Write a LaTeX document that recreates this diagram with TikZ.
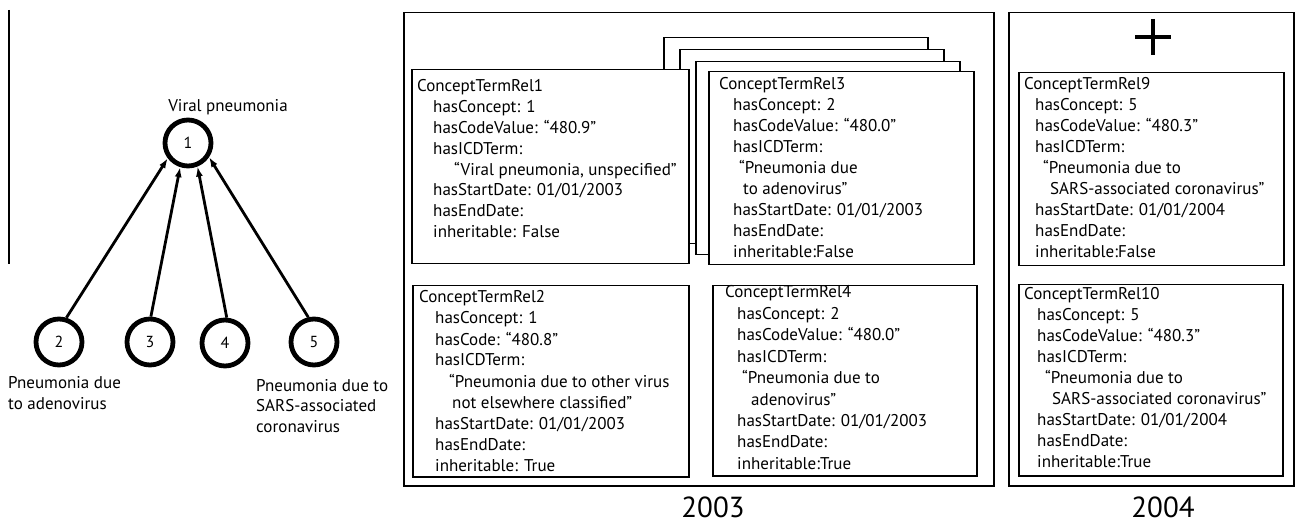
\documentclass[tikz,border=0pt]{standalone}
\usepackage{fontspec}
\setmainfont{PT Sans}
\usetikzlibrary{arrows.meta}
\tikzset{
  ctbox/.style={draw, line width=1.5pt, fill=white, inner sep=0pt, anchor=north west},
  outerbox/.style={draw, line width=1.5pt, inner sep=0pt, anchor=north west},
  ctext/.style={font=\fontsize{17}{20}\selectfont, inner sep=0pt, anchor=base west},
  concept/.style={circle, draw, line width=4.8pt, minimum size=46pt, inner sep=0pt, font=\fontsize{16}{18}\selectfont},
  clabel/.style={font=\fontsize{17}{20.5}\selectfont, inner sep=0pt, align=left},
  rel/.style={line width=2.8pt, -{Latex[length=10pt,width=7pt]}},
  year/.style={font=\fontsize{29}{34}\selectfont, inner sep=0pt},
}
\newcommand\ctlines[4]{%
  \foreach \lx/\ltxt [count=\i from 0] in {#4} {%
    \node[ctext] (#1-\i) at (\lx, {#2+#3*\i}) {\ltxt};}%
}
\begin{document}
\begin{tikzpicture}[x=1pt,y=-1pt]
\useasboundingbox (0,0) rectangle (1295,526);
% stray vertical line
\coordinate (vt) at (9,10);
\coordinate (vb) at (9,264);
\draw[line width=1.3pt] (vt) -- (vb);

% concept graph
\node[concept] (n1) at (188,143) {1};
\node[concept] (n2) at (59,342) {2};
\node[concept] (n3) at (150,342) {3};
\node[concept] (n4) at (225,343) {4};
\node[concept] (n5) at (314,342) {5};
\draw[rel] (n2.73.5) -- (n1.217.6);
\draw[rel] (n3.88) -- (n1.252);
\draw[rel] (n4.86) -- (n1.292);
\draw[rel] (n5.103.6) -- (n1.326.8);
\node[clabel] (l1) at (228,107) {Viral pneumonia};
\node[clabel, anchor=west] (l2) at (8,393) {Pneumonia due\\to adenovirus};
\node[clabel, anchor=west] (l5) at (256,406) {Pneumonia due to\\SARS-associated\\coronavirus};

% outer boxes
\node[outerbox, minimum width=590pt, minimum height=473pt] (b2003) at (403,12) {};
\node[outerbox, minimum width=285pt, minimum height=473pt] (b2004) at (1008,12) {};
\node[year] (y2003) at (713,507) {2003};
\node[year] (y2004) at (1163,507) {2004};

% stacked boxes behind Rel3
\node[ctbox, minimum width=264pt, minimum height=195pt] (sa) at (663,37) {};
\node[ctbox, minimum width=264pt, minimum height=194pt] (sb) at (679,49) {};
\node[ctbox, minimum width=264pt, minimum height=193pt] (sc) at (695,61) {};
\node[ctbox, minimum width=265pt, minimum height=193pt] (r3) at (708,71) {};
\node[ctbox, minimum width=277pt, minimum height=194pt] (r1) at (411,69) {};
\node[ctbox, minimum width=276pt, minimum height=191pt] (r2) at (412,285) {};
\node[ctbox, minimum width=264pt, minimum height=190pt] (r4) at (712,285) {};
\node[ctbox, minimum width=265pt, minimum height=193pt] (r9) at (1018,72) {};
\node[ctbox, minimum width=264pt, minimum height=191pt] (r10) at (1018,284) {};

\ctlines{t1}{92}{20.8}{417/ConceptTermRel1,433/{hasConcept: 1},433/{hasCodeValue: “480.9”},433/{hasICDTerm:},454/{“Viral pneumonia, unspecified”},433/{hasStartDate: 01/01/2003},433/{hasEndDate:},433/{inheritable: False}}
\ctlines{t3}{90}{21}{719/ConceptTermRel3,733/{hasConcept: 2},733/{hasCodeValue: “480.0”},733/{hasICDTerm:},739/{“Pneumonia due},743/{to adenovirus”},733/{hasStartDate: 01/01/2003},733/{hasEndDate:},733/{inheritable:False}}
\ctlines{t2}{303}{21}{419/ConceptTermRel2,435/{hasConcept: 1},435/{hasCode: “480.8”},435/{hasICDTerm:},449/{“Pneumonia due to other virus},452/{not elsewhere classified”},435/{hasStartDate: 01/01/2003},435/{hasEndDate:},435/{inheritable: True}}
\ctlines{t4}{298}{21.4}{725/ConceptTermRel4,737/{hasConcept: 2},737/{hasCodeValue: “480.0”},737/{hasICDTerm:},742/{“Pneumonia due to},751/{adenovirus”},737/{hasStartDate: 01/01/2003},737/{hasEndDate:},737/{inheritable:True}}
\ctlines{t9}{90}{21}{1024/ConceptTermRel9,1035/{hasConcept: 5},1035/{hasCodeValue: “480.3”},1035/{hasICDTerm:},1043/{“Pneumonia due to},1050/{SARS-associated coronavirus”},1035/{hasStartDate: 01/01/2004},1035/{hasEndDate:},1035/{inheritable:False}}
\ctlines{t10}{300}{20.9}{1024/ConceptTermRel10,1037/{hasConcept: 5},1037/{hasCodeValue: “480.3”},1037/{hasICDTerm:},1045/{“Pneumonia due to},1052/{SARS-associated coronavirus”},1037/{hasStartDate: 01/01/2004},1037/{hasEndDate:},1037/{inheritable:True}}

% plus sign
\coordinate (plus) at (1153,37);
\draw[line width=4pt] (plus) ++(-18,0) -- ++(36,0);
\draw[line width=4pt] (plus) ++(0,-18) -- ++(0,36);
\end{tikzpicture}
\end{document}
